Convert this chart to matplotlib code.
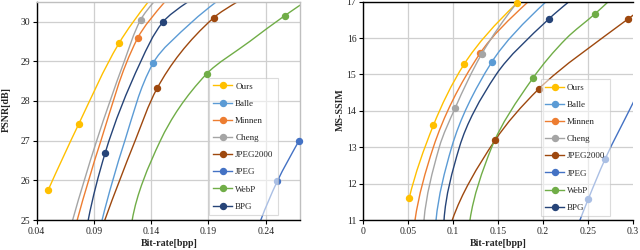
import numpy as np
import matplotlib
matplotlib.use("Agg")
import matplotlib.pyplot as plt
from matplotlib.path import Path
from matplotlib.patches import PathPatch
from matplotlib.lines import Line2D

plt.rcParams['font.family'] = ['Liberation Serif', 'DejaVu Serif']

# ---------------- data ----------------
series_names = ["Ours", "Balle", "Minnen", "Cheng", "JPEG2000", "JPEG", "WebP", "BPG"]
series_colors = ["#FFC000", "#5B9BD5", "#ED7D31", "#A5A5A5", "#9E480E", "#4472C4", "#70AD47", "#264478"]

# PSNR plot: points; *_marks = indices of points carrying a marker
psnr_ours_x = [0.0501, 0.0769, 0.1118, 0.1375]
psnr_ours_y = [25.76, 27.43, 29.45, 30.5]
psnr_ours_marks = [0, 1, 2]
psnr_balle_x = [0.0971, 0.117, 0.1418, 0.176, 0.197]
psnr_balle_y = [25.0, 27.0, 28.96, 30.0, 30.5]
psnr_balle_marks = [2]
psnr_minnen_x = [0.0754, 0.0961, 0.1281, 0.152]
psnr_minnen_y = [25.0, 27.0, 29.58, 30.5]
psnr_minnen_marks = [2]
psnr_cheng_x = [0.0714, 0.0924, 0.1165, 0.1307, 0.1425]
psnr_cheng_y = [25.0, 27.0, 29.0, 30.04, 30.5]
psnr_cheng_marks = [3]
psnr_jpeg2000_x = [0.0995, 0.126, 0.1452, 0.1947, 0.2154]
psnr_jpeg2000_y = [25.0, 27.0, 28.32, 30.10, 30.5]
psnr_jpeg2000_marks = [2, 3]
psnr_jpeg_x = [0.2357, 0.2500, 0.2689, 0.280]
psnr_jpeg_y = [25.0, 25.97, 26.99, 27.55]
psnr_jpeg_marks = [1, 2]
psnr_webp_x = [0.1234, 0.148, 0.1883, 0.2261, 0.2567, 0.280]
psnr_webp_y = [25.0, 27.0, 28.68, 29.5, 30.15, 30.6]
psnr_webp_marks = [2, 4]
psnr_bpg_x = [0.085, 0.0999, 0.131, 0.150, 0.1723]
psnr_bpg_y = [25.0, 26.70, 29.0, 29.98, 30.5]
psnr_bpg_marks = [1, 3]

# MS-SSIM plot
ssim_ours_x = [0.0512, 0.078, 0.1125, 0.171]
ssim_ours_y = [11.61, 13.60, 15.29, 16.96]
ssim_ours_marks = [0, 1, 2, 3]
ssim_balle_x = [0.081, 0.0984, 0.1428, 0.2035]
ssim_balle_y = [11.0, 13.0, 15.33, 17.0]
ssim_balle_marks = [2]
ssim_minnen_x = [0.0576, 0.078, 0.1300, 0.1837]
ssim_minnen_y = [11.0, 13.0, 15.58, 17.0]
ssim_minnen_marks = [2]
ssim_cheng_x = [0.0676, 0.0846, 0.1025, 0.1318, 0.172]
ssim_cheng_y = [11.0, 13.0, 14.09, 15.56, 17.0]
ssim_cheng_marks = [2, 3]
ssim_jpeg2000_x = [0.0991, 0.1467, 0.1953, 0.2945, 0.310]
ssim_jpeg2000_y = [11.0, 13.19, 14.60, 16.52, 16.8]
ssim_jpeg2000_marks = [1, 2, 3]
ssim_jpeg_x = [0.2413, 0.2506, 0.2692, 0.300, 0.310]
ssim_jpeg_y = [11.0, 11.58, 12.67, 14.2, 14.7]
ssim_jpeg_marks = [1, 2]
ssim_webp_x = [0.1188, 0.143, 0.1886, 0.2265, 0.2577, 0.2728]
ssim_webp_y = [11.0, 13.0, 14.89, 16.0, 16.66, 17.0]
ssim_webp_marks = [2, 4]
ssim_bpg_x = [0.0899, 0.107, 0.148, 0.2064, 0.229]
ssim_bpg_y = [11.0, 13.0, 15.0, 16.52, 17.0]
ssim_bpg_marks = [3]

psnr_xticks = [0.04, 0.09, 0.14, 0.19, 0.24]
psnr_xticklabels = ["0.04", "0.09", "0.14", "0.19", "0.24"]
psnr_yticks = [25, 26, 27, 28, 29, 30]
ssim_xticks = [0, 0.05, 0.1, 0.15, 0.2, 0.25, 0.3]
ssim_xticklabels = ["0", "0.05", "0.1", "0.15", "0.2", "0.25", "0.3"]
ssim_yticks = [11, 12, 13, 14, 15, 16, 17]

psnr_series = [
    (psnr_ours_x, psnr_ours_y, psnr_ours_marks),
    (psnr_balle_x, psnr_balle_y, psnr_balle_marks),
    (psnr_minnen_x, psnr_minnen_y, psnr_minnen_marks),
    (psnr_cheng_x, psnr_cheng_y, psnr_cheng_marks),
    (psnr_jpeg2000_x, psnr_jpeg2000_y, psnr_jpeg2000_marks),
    (psnr_jpeg_x, psnr_jpeg_y, psnr_jpeg_marks),
    (psnr_webp_x, psnr_webp_y, psnr_webp_marks),
    (psnr_bpg_x, psnr_bpg_y, psnr_bpg_marks),
]
ssim_series = [
    (ssim_ours_x, ssim_ours_y, ssim_ours_marks),
    (ssim_balle_x, ssim_balle_y, ssim_balle_marks),
    (ssim_minnen_x, ssim_minnen_y, ssim_minnen_marks),
    (ssim_cheng_x, ssim_cheng_y, ssim_cheng_marks),
    (ssim_jpeg2000_x, ssim_jpeg2000_y, ssim_jpeg2000_marks),
    (ssim_jpeg_x, ssim_jpeg_y, ssim_jpeg_marks),
    (ssim_webp_x, ssim_webp_y, ssim_webp_marks),
    (ssim_bpg_x, ssim_bpg_y, ssim_bpg_marks),
]


def _end_slope(h0, h1, d0, d1):
    m = ((2 * h0 + h1) * d0 - h0 * d1) / (h0 + h1)
    if np.sign(m) != np.sign(d0):
        return 0.0
    if np.sign(d0) != np.sign(d1) and abs(m) > abs(3 * d0):
        return 3 * d0
    return m


def smooth_path(xs, ys):
    """Monotone cubic (x as function of y) expressed as Bezier segments."""
    x = np.asarray(xs, float)
    y = np.asarray(ys, float)
    h = np.diff(y)
    d = np.diff(x) / h
    n = len(x)
    m = np.zeros(n)
    if n > 2:
        m[0] = _end_slope(h[0], h[1], d[0], d[1])
        m[-1] = _end_slope(h[-1], h[-2], d[-1], d[-2])
    else:
        m[0] = m[-1] = d[0]
    for k in range(1, n - 1):
        if d[k - 1] * d[k] <= 0:
            m[k] = 0.0
        else:
            w1 = 2 * h[k] + h[k - 1]
            w2 = h[k] + 2 * h[k - 1]
            m[k] = (w1 + w2) / (w1 / d[k - 1] + w2 / d[k])
    verts = [(x[0], y[0])]
    codes = [Path.MOVETO]
    for i in range(n - 1):
        verts += [(x[i] + m[i] * h[i] / 3, y[i] + h[i] / 3),
                  (x[i + 1] - m[i + 1] * h[i] / 3, y[i + 1] - h[i] / 3),
                  (x[i + 1], y[i + 1])]
        codes += [Path.CURVE4] * 3
    return Path(verts, codes)


fig = plt.figure(figsize=(6.4, 2.5), dpi=100)
ax1 = fig.add_axes([36.7 / 640, 30 / 250, 263.4 / 640, 218.3 / 250])
ax2 = fig.add_axes([363.3 / 640, 30 / 250, 269.4 / 640, 218.3 / 250])

LW = 1.0
MS = 4.3
TXT = "#262626"

for ax, data in ((ax1, psnr_series), (ax2, ssim_series)):
    for (xs, ys, marks), color in zip(data, series_colors):
        patch = PathPatch(smooth_path(xs, ys), facecolor="none", edgecolor=color,
                          lw=LW, zorder=2, capstyle="round", joinstyle="round")
        ax.add_patch(patch)
        ax.plot([xs[i] for i in marks], [ys[i] for i in marks], "o", color=color,
                ms=MS, zorder=3, clip_on=False)

# axes 1
ax1.set_xlim(0.04, 0.27)
ax1.set_ylim(25, 30.5)
ax1.set_xticks(psnr_xticks)
ax1.set_xticklabels(psnr_xticklabels)
ax1.set_yticks(psnr_yticks)
# axes 2
ax2.set_xlim(0, 0.3)
ax2.set_ylim(11, 17)
ax2.set_xticks(ssim_xticks)
ax2.set_xticklabels(ssim_xticklabels)
ax2.set_yticks(ssim_yticks)

for ax in (ax1, ax2):
    ax.set_axisbelow(True)
    ax.grid(True, color="#CFCFCF", lw=0.9)
    ax.tick_params(direction="out", length=3, width=0.8, labelsize=7,
                   pad=2, colors="black", labelcolor=TXT)
    for sp in ax.spines.values():
        sp.set_linewidth(1.0)
        sp.set_color("black")

ax1.spines["top"].set_color("#BFBFBF")
ax1.spines["right"].set_color("#BFBFBF")
ax2.spines["right"].set_visible(False)
ax2.xaxis.get_gridlines()[-1].set_visible(False)

handles = [Line2D([], [], color=c, lw=LW, marker="o", ms=MS) for c in series_colors]
legend_kw = dict(loc="upper left", frameon=True, fancybox=False, edgecolor="#BFBFBF",
                 facecolor="white", framealpha=0.55, fontsize=6.5, handlelength=2.1,
                 handletextpad=0.3, labelspacing=0.98, borderpad=0.5, borderaxespad=0)
lg1 = ax1.legend(handles, series_names, bbox_to_anchor=(0.654, 0.652), **legend_kw)
lg2 = ax2.legend(handles, series_names, bbox_to_anchor=(0.6585, 0.646), **legend_kw)
for lg in (lg1, lg2):
    lg.get_frame().set_linewidth(0.8)
    for t in lg.get_texts():
        t.set_color(TXT)

lab_kw = dict(fontsize=7.2, fontweight="bold", color=TXT, ha="center", va="center")
fig.text(6 / 640, 1 - 110 / 250, "PSNR[dB]", rotation=90, **lab_kw)
fig.text(168.8 / 640, 1 - 243.5 / 250, "Bit-rate[bpp]", **lab_kw)
fig.text(340.3 / 640, 1 - 110 / 250, "MS-SSIM", rotation=90, **lab_kw)
fig.text(498.3 / 640, 1 - 243.5 / 250, "Bit-rate[bpp]", **lab_kw)

fig.savefig("out.png", dpi=100)
